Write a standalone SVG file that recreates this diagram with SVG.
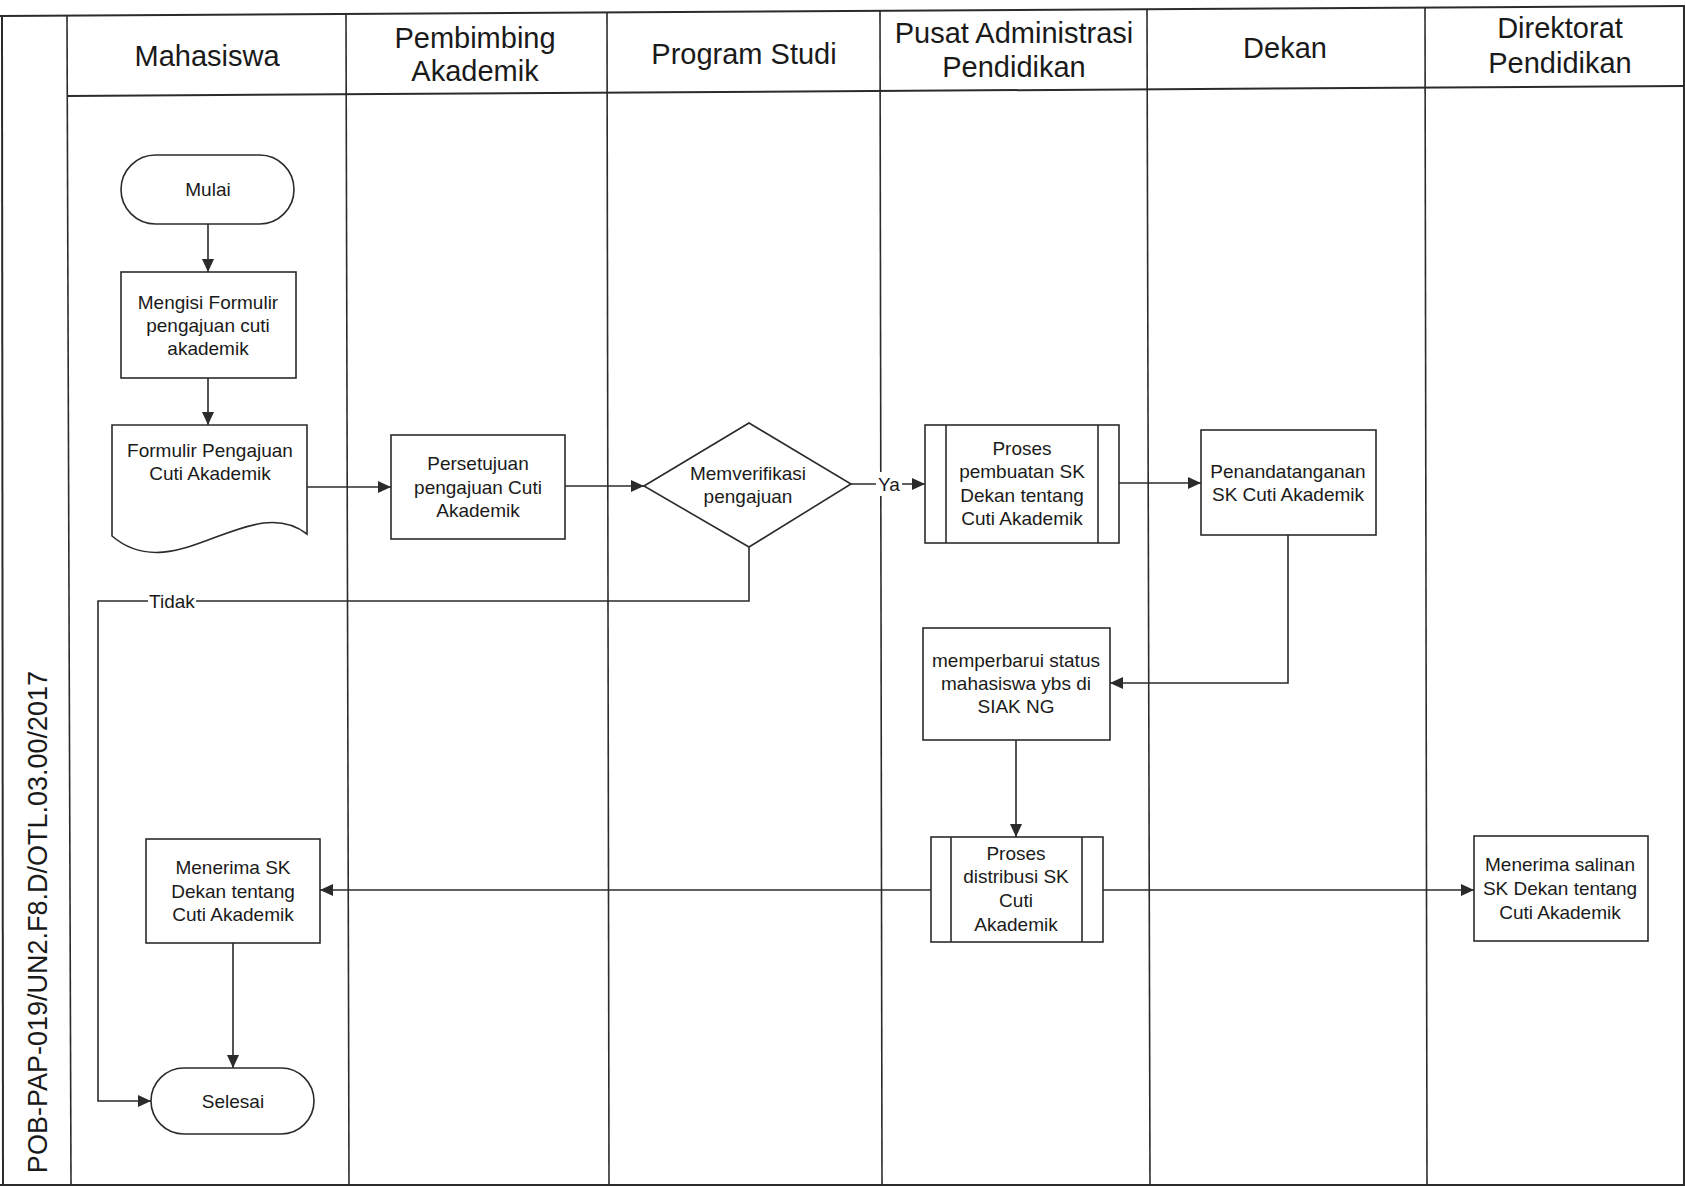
<svg xmlns="http://www.w3.org/2000/svg" width="1685" height="1187" viewBox="0 0 1685 1187">
<style>
.frame{stroke:#2b2b2b;stroke-width:2;fill:none}
.lane{stroke:#2b2b2b;stroke-width:1.6;fill:none}
.shape{fill:#fff;stroke:#2b2b2b;stroke-width:1.6}
.sub{stroke:#2b2b2b;stroke-width:1.6;fill:none}
.hdr{font-family:"Liberation Sans",Arial,sans-serif;font-size:29px;fill:#1a1a1a;text-anchor:middle}
.txt{font-family:"Liberation Sans",Arial,sans-serif;font-size:19px;fill:#1a1a1a;text-anchor:middle}
.lbl{font-family:"Liberation Sans",Arial,sans-serif;font-size:19px;fill:#1a1a1a;text-anchor:middle}
.conn{stroke:#2b2b2b;stroke-width:1.6;fill:none}
.code{font-family:"Liberation Sans",Arial,sans-serif;font-size:27px;fill:#1a1a1a;text-anchor:middle}
</style>
<defs>
<marker id="arr" markerUnits="userSpaceOnUse" markerWidth="13" markerHeight="12" refX="13" refY="6" orient="auto">
<path d="M0,0 L13,6 L0,12 z" fill="#2b2b2b"/>
</marker>
</defs>
<rect x="0" y="0" width="1685" height="1187" fill="#fff"/>
<g id="pool">
<line class="frame" x1="0" y1="16" x2="1685" y2="6"/>
<line class="frame" x1="0" y1="1185" x2="1685" y2="1185"/>
<line class="frame" x1="2" y1="16" x2="3" y2="1185"/>
<line class="frame" x1="1684" y1="6" x2="1684" y2="1185"/>
<line class="frame" x1="68" y1="96" x2="1685" y2="86"/>
<line class="lane" x1="67" y1="16" x2="71" y2="1185"/>
<line class="lane" x1="346" y1="14" x2="349" y2="1185"/>
<line class="lane" x1="607" y1="13" x2="609" y2="1185"/>
<line class="lane" x1="880" y1="11" x2="882" y2="1185"/>
<line class="lane" x1="1147" y1="10" x2="1150" y2="1185"/>
<line class="lane" x1="1425" y1="8" x2="1427" y2="1185"/>
<text class="code" transform="translate(47,922) rotate(-90)">POB-PAP-019/UN2.F8.D/OTL.03.00/2017</text>
</g>
<g id="headers">
<text class="hdr" x="207" y="66">Mahasiswa</text>
<text class="hdr" x="475" y="48">Pembimbing</text>
<text class="hdr" x="475" y="81">Akademik</text>
<text class="hdr" x="744" y="64">Program Studi</text>
<text class="hdr" x="1014" y="43">Pusat Administrasi</text>
<text class="hdr" x="1014" y="77">Pendidikan</text>
<text class="hdr" x="1285" y="58">Dekan</text>
<text class="hdr" x="1560" y="38">Direktorat</text>
<text class="hdr" x="1560" y="73">Pendidikan</text>
</g>
<g id="connectors">
<line class="conn" x1="208" y1="224" x2="208" y2="272" marker-end="url(#arr)"/>
<line class="conn" x1="208" y1="378" x2="208" y2="425" marker-end="url(#arr)"/>
<line class="conn" x1="307" y1="487" x2="391" y2="487" marker-end="url(#arr)"/>
<line class="conn" x1="565" y1="486" x2="644" y2="486" marker-end="url(#arr)"/>
<line class="conn" x1="851" y1="484" x2="925" y2="484" marker-end="url(#arr)"/>
<polyline class="conn" points="749,547 749,601 98,601 98,1101 151,1101" marker-end="url(#arr)"/>
<line class="conn" x1="1119" y1="483" x2="1201" y2="483" marker-end="url(#arr)"/>
<polyline class="conn" points="1288,535 1288,683 1110,683" marker-end="url(#arr)"/>
<line class="conn" x1="1016" y1="740" x2="1016" y2="837" marker-end="url(#arr)"/>
<line class="conn" x1="931" y1="890" x2="320" y2="890" marker-end="url(#arr)"/>
<line class="conn" x1="1103" y1="890" x2="1474" y2="890" marker-end="url(#arr)"/>
<line class="conn" x1="233" y1="943" x2="233" y2="1068" marker-end="url(#arr)"/>
<rect x="876" y="472" width="26" height="24" fill="#fff"/>
<text class="lbl" x="889" y="491">Ya</text>
<rect x="148" y="589" width="48" height="24" fill="#fff"/>
<text class="lbl" x="172" y="608">Tidak</text>
</g>
<g id="mulai">
<rect class="shape" x="121" y="155" width="173" height="69" rx="34.5" ry="34.5"/>
<text class="txt" x="208" y="196">Mulai</text>
</g>
<g id="mengisi">
<rect class="shape" x="121" y="272" width="175" height="106"/>
<text class="txt" x="208" y="309">Mengisi Formulir</text>
<text class="txt" x="208" y="332">pengajuan cuti</text>
<text class="txt" x="208" y="355">akademik</text>
</g>
<g id="formulir">
<path class="shape" d="M112,425 H307 V534 C250,490 175,590 112,536 Z"/>
<text class="txt" x="210" y="457">Formulir Pengajuan</text>
<text class="txt" x="210" y="480">Cuti Akademik</text>
</g>
<g id="persetujuan">
<rect class="shape" x="391" y="435" width="174" height="104"/>
<text class="txt" x="478" y="470">Persetujuan</text>
<text class="txt" x="478" y="494">pengajuan Cuti</text>
<text class="txt" x="478" y="517">Akademik</text>
</g>
<g id="verifikasi">
<polygon class="shape" points="644,486 749,423 851,484 749,547"/>
<text class="txt" x="748" y="480">Memverifikasi</text>
<text class="txt" x="748" y="503">pengajuan</text>
</g>
<g id="pembuatan-sk">
<rect class="shape" x="925" y="425" width="194" height="118"/>
<line class="sub" x1="946" y1="425" x2="946" y2="543"/>
<line class="sub" x1="1098" y1="425" x2="1098" y2="543"/>
<text class="txt" x="1022" y="455">Proses</text>
<text class="txt" x="1022" y="478">pembuatan SK</text>
<text class="txt" x="1022" y="502">Dekan tentang</text>
<text class="txt" x="1022" y="525">Cuti Akademik</text>
</g>
<g id="penandatanganan">
<rect class="shape" x="1201" y="430" width="175" height="105"/>
<text class="txt" x="1288" y="478">Penandatanganan</text>
<text class="txt" x="1288" y="501">SK Cuti Akademik</text>
</g>
<g id="memperbarui">
<rect class="shape" x="923" y="628" width="187" height="112"/>
<text class="txt" x="1016" y="667">memperbarui status</text>
<text class="txt" x="1016" y="690">mahasiswa ybs di</text>
<text class="txt" x="1016" y="713">SIAK NG</text>
</g>
<g id="distribusi-sk">
<rect class="shape" x="931" y="837" width="172" height="105"/>
<line class="sub" x1="951" y1="837" x2="951" y2="942"/>
<line class="sub" x1="1082" y1="837" x2="1082" y2="942"/>
<text class="txt" x="1016" y="860">Proses</text>
<text class="txt" x="1016" y="883">distribusi SK</text>
<text class="txt" x="1016" y="907">Cuti</text>
<text class="txt" x="1016" y="931">Akademik</text>
</g>
<g id="menerima-sk">
<rect class="shape" x="146" y="839" width="174" height="104"/>
<text class="txt" x="233" y="874">Menerima SK</text>
<text class="txt" x="233" y="898">Dekan tentang</text>
<text class="txt" x="233" y="921">Cuti Akademik</text>
</g>
<g id="menerima-salinan">
<rect class="shape" x="1474" y="836" width="174" height="105"/>
<text class="txt" x="1560" y="871">Menerima salinan</text>
<text class="txt" x="1560" y="895">SK Dekan tentang</text>
<text class="txt" x="1560" y="919">Cuti Akademik</text>
</g>
<g id="selesai">
<rect class="shape" x="151" y="1068" width="163" height="66" rx="33" ry="33"/>
<text class="txt" x="233" y="1108">Selesai</text>
</g>
</svg>
